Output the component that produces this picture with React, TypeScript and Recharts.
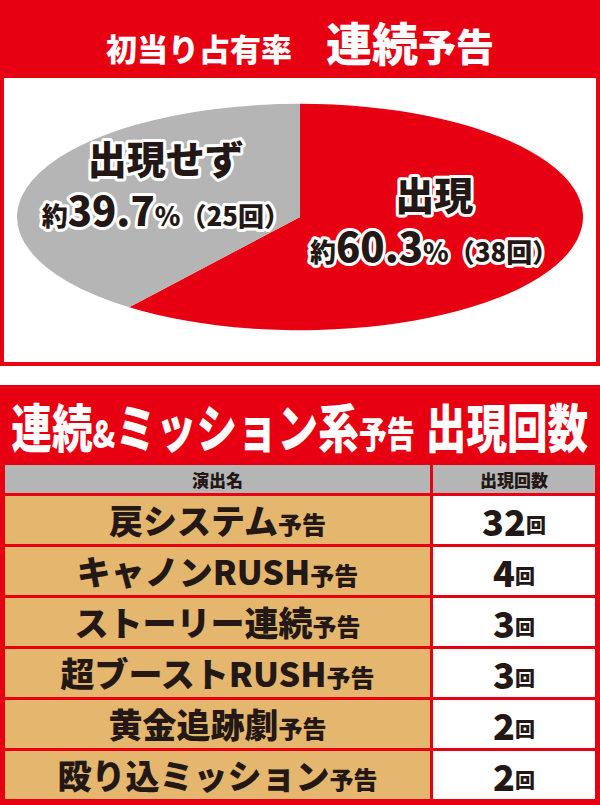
import React from 'react';
import { PieChart, Pie, Cell } from 'recharts';

// pie: 初当り占有率 (連続予告)
const pieNames = ['出現', '出現せず'];
const pieCounts = [38, 25];
const pieColors = ['#E60012', '#B5B5B5'];

// table: 連続&ミッション系予告 出現回数
const rowNames = ['戻システム', 'キャノンRUSH', 'ストーリー連続', '超ブーストRUSH', '黄金追跡劇', '殴り込ミッション'];
const rowCounts = [32, 4, 3, 3, 2, 2];

const RED = '#E60012';
const INK = '#231815';
const TAN = '#E4B66E';
const FONT = '"Noto Sans CJK JP", "Noto Sans", sans-serif';

const R = 283;
const SQUASH = 0.4; // circle -> ellipse

const total = pieCounts.reduce((a, b) => a + b, 0);

const renderLabel = (props: any) => {
    const { cx, cy, midAngle, index } = props;
    const rad = (-midAngle * Math.PI) / 180;
    const x = cx + R * 0.5 * Math.cos(rad);
    const y = cy + R * 0.5 * Math.sin(rad);
    const pct = ((pieCounts[index] / total) * 100).toFixed(1);
    const outline = {
        stroke: '#fff',
        strokeWidth: 6,
        strokeLinejoin: 'round' as const,
        paintOrder: 'stroke',
        fill: INK,
        fontWeight: 900,
        fontFamily: FONT,
    };
    return (
        <g transform={`translate(${x} ${y}) scale(1 ${1 / SQUASH})`}>
            <text textAnchor="middle" y={-25} fontSize={39} style={outline}>
                {pieNames[index]}
            </text>
            <text textAnchor="middle" y={27} style={outline}>
                <tspan fontSize={26}>約</tspan>
                <tspan fontSize={40}>{pct}</tspan>
                <tspan fontSize={26}>%（{pieCounts[index]}回）</tspan>
            </text>
        </g>
    );
};

const pieData = pieNames.map((name, i) => ({ name, value: pieCounts[i] }));

export default function App() {
    return (
        <div
            style={{
                position: 'absolute',
                left: 0,
                top: 0,
                width: 600,
                height: 805,
                background: '#fff',
                overflow: 'hidden',
                fontFamily: FONT,
            }}
        >
            {/* header */}
            <div
                style={{
                    position: 'absolute',
                    left: 0,
                    top: 0,
                    width: 600,
                    height: 78,
                    background: RED,
                    display: 'flex',
                    justifyContent: 'center',
                    alignItems: 'center',
                    paddingTop: 4,
                    boxSizing: 'border-box',
                }}
            >
                <div style={{ display: 'flex', alignItems: 'baseline', color: '#fff', fontWeight: 900, whiteSpace: 'nowrap' }}>
                    <span style={{ fontSize: 31 }}>初当り占有率</span>
                    <span style={{ fontSize: 46, marginLeft: 34 }}>連続</span>
                    <span style={{ fontSize: 38 }}>予告</span>
                </div>
            </div>

            {/* pie box */}
            <div style={{ position: 'absolute', left: 0, top: 78, width: 600, height: 288, background: RED }}>
                <div style={{ position: 'absolute', left: 4, right: 4, top: 0, bottom: 4, background: '#fff' }} />
            </div>
            <div
                style={{
                    position: 'absolute',
                    left: 0,
                    top: 97,
                    width: 600,
                    height: 600,
                    transform: `scaleY(${SQUASH})`,
                    transformOrigin: 'top left',
                }}
            >
                <PieChart width={600} height={600} margin={{ top: 0, right: 0, bottom: 0, left: 0 }}>
                    <Pie
                        data={pieData}
                        dataKey="value"
                        nameKey="name"
                        cx={300}
                        cy={300}
                        outerRadius={R}
                        startAngle={90}
                        endAngle={-270}
                        stroke="none"
                        label={renderLabel}
                        labelLine={false}
                        isAnimationActive={false}
                    >
                        {pieData.map((d, i) => (
                            <Cell key={d.name} fill={pieColors[i]} />
                        ))}
                    </Pie>
                </PieChart>
            </div>

            {/* table section */}
            <div style={{ position: 'absolute', left: 0, top: 385, width: 600, height: 420, background: RED }}>
                <div
                    style={{
                        position: 'absolute',
                        left: 0,
                        top: 0,
                        width: 600,
                        height: 80,
                        display: 'flex',
                        justifyContent: 'center',
                        alignItems: 'center',
                    }}
                >
                    <div
                        style={{
                            display: 'flex',
                            alignItems: 'baseline',
                            color: '#fff',
                            fontWeight: 900,
                            whiteSpace: 'nowrap',
                            transform: 'scaleX(0.78)',
                        }}
                    >
                        <span style={{ fontSize: 52 }}>連続</span>
                        <span style={{ fontSize: 38 }}>&amp;</span>
                        <span style={{ fontSize: 52 }}>ミッション系</span>
                        <span style={{ fontSize: 36 }}>予告</span>
                        <span style={{ fontSize: 52, marginLeft: 14 }}>出現回数</span>
                    </div>
                </div>

                <div
                    style={{
                        position: 'absolute',
                        left: 5,
                        top: 80,
                        display: 'grid',
                        gridTemplateColumns: '425px 162px',
                        gridAutoRows: '48px',
                        gridTemplateRows: '28px',
                        gap: 3,
                        color: INK,
                        fontWeight: 900,
                    }}
                >
                    <div style={{ background: '#B5B5B5', display: 'flex', justifyContent: 'center', alignItems: 'center', fontSize: 17 }}>
                        演出名
                    </div>
                    <div style={{ background: '#B5B5B5', display: 'flex', justifyContent: 'center', alignItems: 'center', fontSize: 17 }}>
                        出現回数
                    </div>
                    {rowNames.map((name, i) => (
                        <React.Fragment key={name}>
                            <div
                                style={{
                                    background: TAN,
                                    display: 'flex',
                                    justifyContent: 'center',
                                    alignItems: 'center',
                                }}
                            >
                                <span style={{ fontSize: 34, lineHeight: 1 }}>{name}</span>
                                <span style={{ fontSize: 24, lineHeight: 1, alignSelf: 'center', marginTop: 8 }}>予告</span>
                            </div>
                            <div
                                style={{
                                    background: '#fff',
                                    display: 'flex',
                                    justifyContent: 'center',
                                    alignItems: 'center',
                                }}
                            >
                                <span style={{ fontSize: 36, lineHeight: 1 }}>{rowCounts[i]}</span>
                                <span style={{ fontSize: 20, lineHeight: 1, marginTop: 10 }}>回</span>
                            </div>
                        </React.Fragment>
                    ))}
                </div>
            </div>
        </div>
    );
}
